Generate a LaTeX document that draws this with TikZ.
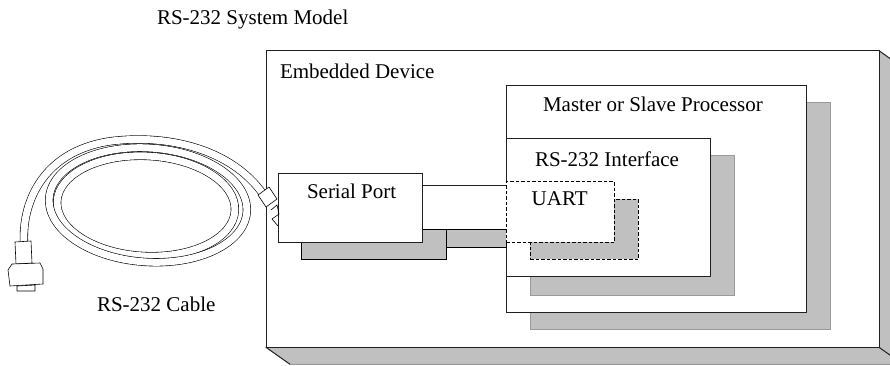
\documentclass[tikz,border=0pt]{standalone}
\usepackage{fontspec}
\setmainfont{Liberation Serif}
\definecolor{edge}{HTML}{202020}
\definecolor{shadegray}{HTML}{C0C0C0}
\definecolor{shadeedge}{HTML}{9A9A9A}
\begin{document}
\begin{tikzpicture}[x=1pt,y=-1pt,
  every node/.style={inner sep=0pt, outer sep=0pt},
  lbl/.style={font=\fontsize{21}{25}\selectfont, anchor=base west},
  solidbox/.style={draw=edge, fill=white, line width=0.9pt, anchor=north west},
  shade/.style={fill=shadegray, draw=shadeedge, line width=0.9pt, anchor=north west},
  darkshade/.style={fill=shadegray, draw=black, line width=0.9pt, anchor=north west},
  dashbox/.style={draw=black, dash pattern=on 3.5pt off 2pt, line width=0.9pt, anchor=north west},
  tube/.style={draw=black, line width=0.6pt, double=white, double distance=7pt},
  plug/.style={draw=black, line width=0.6pt, fill=white},
]
\useasboundingbox (0,0) rectangle (890,365);
\begin{scope}
\clip (0,0) rectangle (890,365);

% ---- embedded device: 3-D slab ----
\draw[fill=shadegray, draw=shadeedge, line width=0.9pt]
  (879,50.7) -- (903,67.7) -- (903,364.3) -- (879,347.3) -- cycle;
\draw[fill=shadegray, draw=shadeedge, line width=0.9pt]
  (266,347.3) -- (290,364.3) -- (903,364.3) -- (879,347.3) -- cycle;
\draw[edge, line width=0.9pt] (266,347.3) -- (290,364.3);
\draw[edge, line width=0.9pt] (879,347.3) -- (903,364.3);
\draw[edge, line width=0.9pt] (879,50.7) -- (903,67.7);
\node[solidbox, minimum width=613pt, minimum height=296.6pt] (emb) at (266,50.7) {};
\end{scope}

% ---- processor and interface with drop shadows ----
\node[shade, minimum width=300pt, minimum height=227pt] (mshadow) at (530,102) {};
\node[solidbox, minimum width=300.7pt, minimum height=227.7pt] (master) at (506,85) {};
\node[shade, minimum width=204pt, minimum height=140pt] (ishadow) at (530,155) {};
\node[solidbox, minimum width=204.7pt, minimum height=138.4pt] (iface) at (506,138.3) {};

% ---- serial port, its base and the link to the interface ----
\node[darkshade, minimum width=145pt, minimum height=30pt] (sshadow) at (301.7,229.3) {};
\coordinate (bandtop) at (sshadow.north east);
\coordinate (bandbot) at ([yshift=-18pt]bandtop);
\draw[fill=shadegray, draw=black, line width=0.9pt] (bandtop) rectangle (bandbot -| iface.west);
\node[solidbox, minimum width=144pt, minimum height=69pt] (serial) at (278.3,173.3) {};
\coordinate (linkA) at ([yshift=-12.2pt]serial.north east);
\draw[edge, line width=0.9pt] (linkA) -- (linkA -| iface.west);

% ---- UART (dashed) ----
\node[dashbox, fill=shadegray, minimum width=108.3pt, minimum height=60.3pt] (ushadow) at (530,199) {};
\node[dashbox, fill=white, minimum width=108.3pt, minimum height=60.6pt] (uart) at (506,181.7) {};

% ---- labels ----
\node[lbl] (title) at (157,24) {RS-232 System Model};
\node[lbl] (embl) at (280,78) {Embedded Device};
\node[lbl] (masterl) at (543,111.7) {Master or Slave Processor};
\node[lbl] (ifacel) at (535,166) {RS-232 Interface};
\node[lbl] (seriall) at (307,198.3) {Serial Port};
\node[lbl] (uartl) at (531.7,205.7) {UART};
\node[lbl] (cablel) at (97,311) {RS-232 Cable};

% ---- coiled cable: two turns and the leads ----
\draw[tube, rotate around={-3:(146,206)}] (146,206) ellipse [x radius=89, y radius=50];
\draw[tube, rotate around={-4:(148,205)}] (148,205) ellipse [x radius=99, y radius=57];
% outer lead: free connector, over the top of the coil, into the plug
\draw[tube] (24,242) .. controls (22,200) and (45,150) .. (112,141)
  .. controls (170,134) and (232,150) .. (263,194);
% plug at the serial port
\draw[plug] (258,195) -- (269,187) -- (277,199) -- (266,207) -- cycle;
\draw[black, line width=0.6pt] (271,210) -- (277,205) -- (279,214) -- (272,219) -- (278,226);
% free connector
\draw[plug] (15,242) -- (31,241) -- (32,263) -- (16,264) -- cycle;
\draw[plug] (12,264) -- (40,263) -- (43,269) -- (43,284) -- (10,286) -- (8,270) -- cycle;
\draw[plug] (17,286) -- (35,285) -- (35,291) -- (17,291) -- cycle;
\end{tikzpicture}
\end{document}
